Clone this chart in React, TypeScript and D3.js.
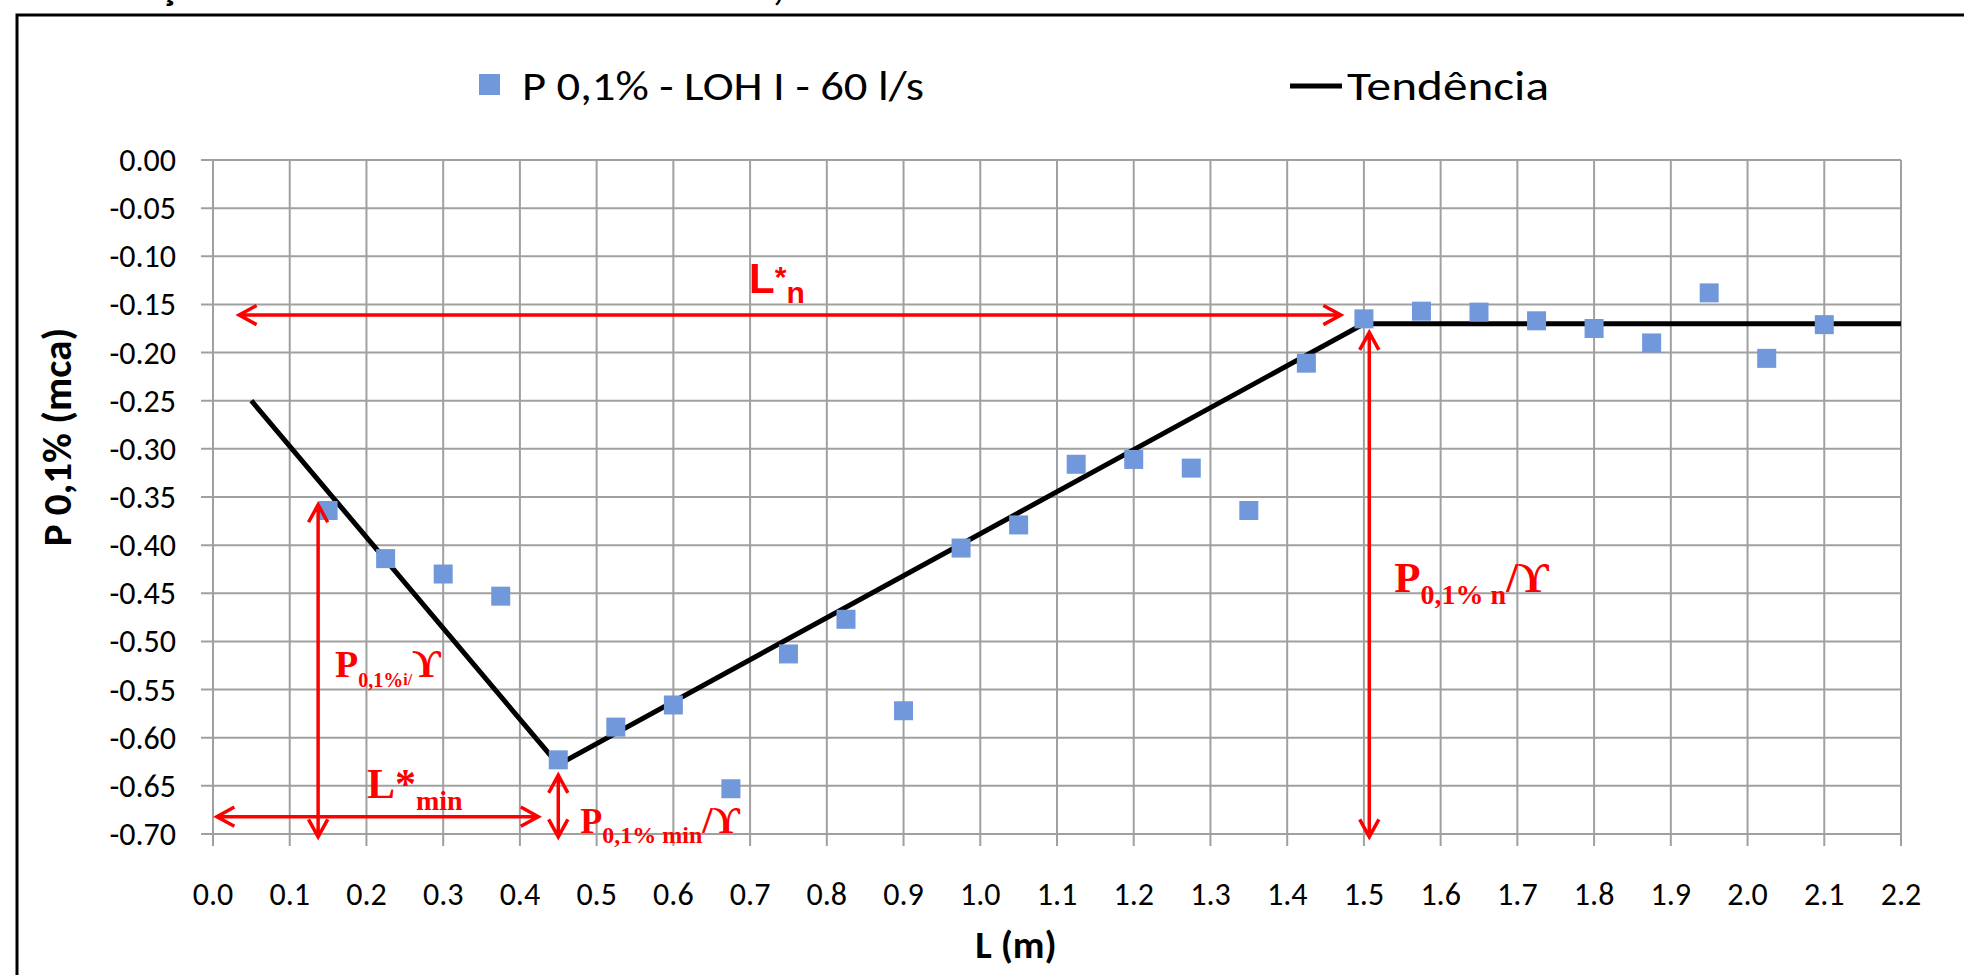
import React from "react";
import * as d3 from "d3";

// measured points: L (m) vs P 0,1% (mca)
const lengths = [
  0.15, 0.225, 0.3, 0.375, 0.45, 0.525, 0.6, 0.675, 0.75, 0.825, 0.9, 0.975,
  1.05, 1.125, 1.2, 1.275, 1.35, 1.425, 1.5, 1.575, 1.65, 1.725, 1.8, 1.875,
  1.95, 2.025, 2.1,
];
const pressures = [
  -0.364, -0.414, -0.43, -0.453, -0.623, -0.589, -0.566, -0.653, -0.513,
  -0.477, -0.572, -0.403, -0.379, -0.316, -0.311, -0.32, -0.364, -0.211,
  -0.165, -0.157, -0.158, -0.167, -0.175, -0.19, -0.138, -0.206, -0.171,
];

// trend line (Tendência)
const trendL = [0.05, 0.45, 1.5, 2.2];
const trendP = [-0.25, -0.628, -0.17, -0.17];

const xTicks = d3.range(0, 23).map((i) => i / 10);
const yTicks = d3.range(0, 15).map((i) => -i / 20);

const seriesLabel = "P 0,1% - LOH I - 60 l/s";
const trendLabel = "Tendência";
const xTitle = "L (m)";
const yTitle = "P 0,1% (mca)";

// red double arrows [x1, y1, x2, y2] in data units
const arrows = [
  [0.034, -0.161, 1.47, -0.161],
  [1.507, -0.179, 1.507, -0.703],
  [0.137, -0.358, 0.137, -0.703],
  [0.005, -0.682, 0.424, -0.682],
  [0.45, -0.639, 0.45, -0.703],
];

const W = 1964;
const H = 975;
const margin = { top: 160, right: 63, bottom: 141, left: 213 };
const RED = "#FF0000";
const BLUE = "#7098DA";
const GRID = "#A0A0A0";
const sans = "Carlito, Calibri, Lato, 'Open Sans', sans-serif";
const serif = "'Liberation Serif', 'Times New Roman', 'DejaVu Serif', serif";

const fmt = (v: number, d: number) => v.toFixed(d).replace("\u2212", "-");

export default function App() {
  const x = d3
    .scaleLinear()
    .domain([0, 2.2])
    .range([margin.left, W - margin.right]);
  const y = d3
    .scaleLinear()
    .domain([-0.7, 0])
    .range([H - margin.bottom, margin.top]);

  const trend = d3
    .line<number>()
    .x((d) => x(d))
    .y((_, i) => y(trendP[i]));

  const arrowPath = (a: number[]) => {
    const [x1, y1, x2, y2] = [x(a[0]), y(a[1]), x(a[2]), y(a[3])];
    const ang = Math.atan2(y2 - y1, x2 - x1);
    const len = 20;
    const spread = 0.5;
    const head = (px: number, py: number, dir: number) => {
      const ax = px - len * Math.cos(dir - spread);
      const ay = py - len * Math.sin(dir - spread);
      const bx = px - len * Math.cos(dir + spread);
      const by = py - len * Math.sin(dir + spread);
      return `M${ax},${ay}L${px},${py}L${bx},${by}`;
    };
    return (
      `M${x1},${y1}L${x2},${y2}` +
      head(x2, y2, ang) +
      head(x1, y1, ang + Math.PI)
    );
  };

  const x0 = margin.left;
  const yBottom = H - margin.bottom;

  return (
    <div style={{ position: "absolute", left: 0, top: 0 }}>
      <svg width={W} height={H} style={{ display: "block", background: "#fff" }}>
        {/* cropped caption fragments above the frame */}
        <text x={160} y={0} fontFamily={sans} fontWeight="bold" fontSize={40}>
          ç
        </text>
        <text x={773} y={0} fontFamily={sans} fontWeight="bold" fontSize={40}>
          ,
        </text>

        <rect x={17} y={15} width={W + 20} height={H} fill="#fff" stroke="#000" strokeWidth={3} />

        {/* grid */}
        <g stroke={GRID} strokeWidth={2}>
          {xTicks.map((t) => (
            <line key={"gx" + t} x1={x(t)} x2={x(t)} y1={y(0)} y2={yBottom + 12} />
          ))}
          {yTicks.map((t) => (
            <line key={"gy" + t} x1={x0 - 12} x2={x(2.2)} y1={y(t)} y2={y(t)} />
          ))}
        </g>

        {/* tick labels */}
        <g fontFamily={sans} fontSize={32} fill="#000">
          {xTicks.map((t) => (
            <text key={"tx" + t} x={x(t)} y={905} textAnchor="middle">
              {fmt(t, 1)}
            </text>
          ))}
          {yTicks.map((t) => (
            <text key={"ty" + t} x={176} y={y(t) + 11} textAnchor="end">
              {t === 0 ? "0.00" : fmt(t, 2)}
            </text>
          ))}
        </g>

        {/* axis titles */}
        <text
          transform={`translate(57,437) rotate(-90)`}
          textAnchor="middle"
          dominantBaseline="central"
          fontFamily={sans}
          fontWeight="bold"
          fontSize={41}
        >
          {yTitle}
        </text>
        <text x={1016} y={958} textAnchor="middle" fontFamily={sans} fontWeight="bold" fontSize={39}>
          {xTitle}
        </text>

        {/* trend line */}
        <path d={trend(trendL) || ""} fill="none" stroke="#000" strokeWidth={5} />

        {/* data points */}
        {lengths.map((l, i) => (
          <rect
            key={"p" + i}
            x={x(l) - 9.5}
            y={y(pressures[i]) - 9.5}
            width={19}
            height={19}
            fill={BLUE}
          />
        ))}

        {/* red annotations */}
        <g fill="none" stroke={RED} strokeWidth={3.5} strokeLinejoin="miter">
          {arrows.map((a, i) => (
            <path key={"a" + i} d={arrowPath(a)} />
          ))}
        </g>
        <g fill={RED} fontWeight="bold">
          <text x={x(0.7) - 1} y={293} fontFamily="'Liberation Sans', Arial, sans-serif">
            <tspan fontSize={42}>L</tspan>
            <tspan fontSize={30} dy={-6}>*</tspan>
            <tspan fontSize={30} dy={16}>n</tspan>
          </text>
          <text x={x(1.507) + 25} y={592} fontFamily={serif}>
            <tspan fontSize={43}>P</tspan>
            <tspan fontSize={28} dy={12}>0,1% n</tspan>
            <tspan fontSize={43} dy={-12}>/ϒ</tspan>
          </text>
          <text x={x(0.137) + 17} y={677} fontFamily={serif}>
            <tspan fontSize={38}>P</tspan>
            <tspan fontSize={20} dy={10}>0,1%</tspan>
            <tspan fontSize={16} dy={-2}>i/</tspan>
            <tspan fontSize={40} dy={-8}>ϒ</tspan>
          </text>
          <text x={367} y={798} fontFamily={serif}>
            <tspan fontSize={42}>L*</tspan>
            <tspan fontSize={28} dy={12}>min</tspan>
          </text>
          <text x={x(0.45) + 22} y={833} fontFamily={serif}>
            <tspan fontSize={36}>P</tspan>
            <tspan fontSize={24} dy={10}>0,1% min</tspan>
            <tspan fontSize={38} dy={-10}>/ϒ</tspan>
          </text>
        </g>

        {/* legend */}
        <rect x={479} y={74} width={21} height={21} fill={BLUE} />
        <text x={522} y={100} fontFamily={sans} fontSize={42} textLength={402} lengthAdjust="spacingAndGlyphs">
          {seriesLabel}
        </text>
        <line x1={1290} x2={1342} y1={86} y2={86} stroke="#000" strokeWidth={5} />
        <text x={1347} y={100} fontFamily={sans} fontSize={42} textLength={202} lengthAdjust="spacingAndGlyphs">
          {trendLabel}
        </text>
      </svg>
    </div>
  );
}
